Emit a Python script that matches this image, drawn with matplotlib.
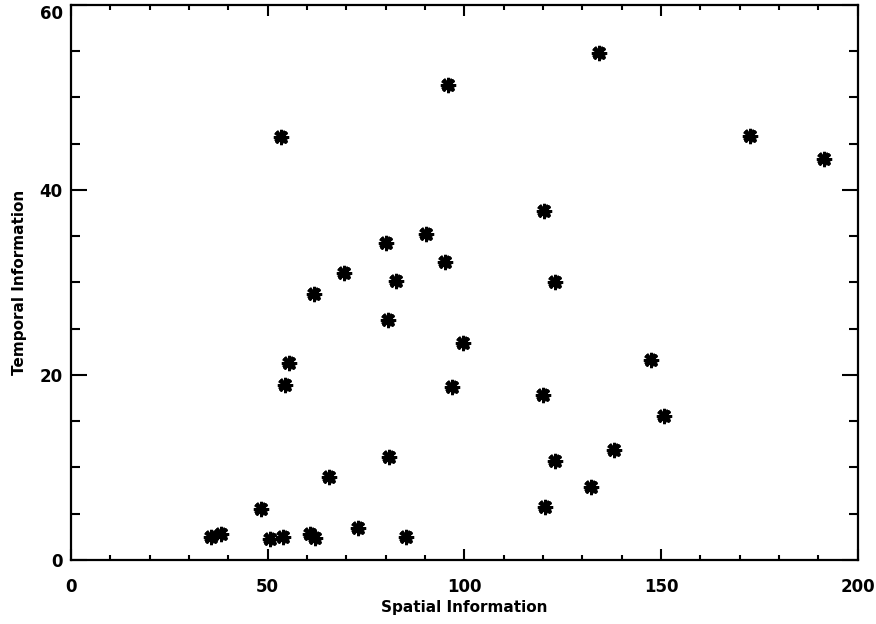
import numpy as np
import matplotlib
matplotlib.use("Agg")
import matplotlib.pyplot as plt
import matplotlib.transforms as mtransforms
from matplotlib.ticker import MultipleLocator

# values
spatial = [35.5, 38.1, 48.3, 50.6, 54.0, 60.8, 62.1, 65.7, 72.9, 85.2,
           53.4, 54.3, 55.5, 61.8, 69.5, 80.2, 82.6, 80.6, 80.9, 90.3,
           95.8, 95.2, 97.0, 99.8, 120.2, 123.0, 119.9, 123.0, 120.4, 132.1,
           138.0, 147.5, 150.7, 134.2, 172.6, 191.4]
temporal = [2.45, 2.8, 5.5, 2.3, 2.5, 2.8, 2.4, 9.0, 3.5, 2.45,
            45.7, 18.9, 21.3, 28.8, 31.0, 34.3, 30.2, 25.9, 11.1, 35.2,
            51.3, 32.2, 18.7, 23.5, 37.7, 30.0, 17.8, 10.7, 5.7, 7.9,
            11.9, 21.6, 15.6, 54.8, 45.8, 43.3]

y_ticks = [0, 20, 40, 60]
y_labels = ['0', '20', '40', '60']

plt.rcParams['font.family'] = 'DejaVu Sans'
plt.rcParams['font.weight'] = 'bold'

fig = plt.figure(figsize=(8.76, 6.24), dpi=100)
ax = fig.add_axes([0.081, 0.1026, 0.898, 0.8894])

ax.plot(spatial, temporal, linestyle='none', marker='X', markersize=10,
        color='black', markeredgewidth=0)
ax.plot(spatial, temporal, linestyle='none', marker=(8, 2, 0), markersize=11,
        color='black', markeredgewidth=2.0)

ax.set_xlim(0, 200)
ax.set_ylim(0, 60)
ax.xaxis.set_major_locator(MultipleLocator(50))
ax.xaxis.set_minor_locator(MultipleLocator(10))
# top label is drawn by hand below so it can sit under the frame
ax.set_yticks(y_ticks, y_labels[:-1] + [''])
ax.yaxis.set_minor_locator(MultipleLocator(5))

for s in ax.spines.values():
    s.set_linewidth(1.6)

ax.tick_params(axis='both', which='both', direction='in', top=True, right=True,
               width=1.5, labelsize=12)
ax.tick_params(axis='x', which='major', length=8, pad=13)
ax.tick_params(axis='x', which='minor', length=3.8)
ax.tick_params(axis='y', which='major', length=11.5, pad=6)
ax.tick_params(axis='y', which='minor', length=6.5)
for lab in ax.get_xticklabels() + ax.get_yticklabels():
    lab.set_fontweight('bold')

trans = ax.get_yaxis_transform() + mtransforms.ScaledTranslation(-6 / 72, 0, fig.dpi_scale_trans)
ax.text(0, y_ticks[-1], y_labels[-1], transform=trans, ha='right', va='top',
        fontsize=12, fontweight='bold')

ax.set_xlabel('Spatial Information', fontsize=11, fontweight='bold', labelpad=3)
ax.set_ylabel('Temporal Information', fontsize=11, fontweight='bold', labelpad=9)

fig.savefig('out.png', dpi=100)
